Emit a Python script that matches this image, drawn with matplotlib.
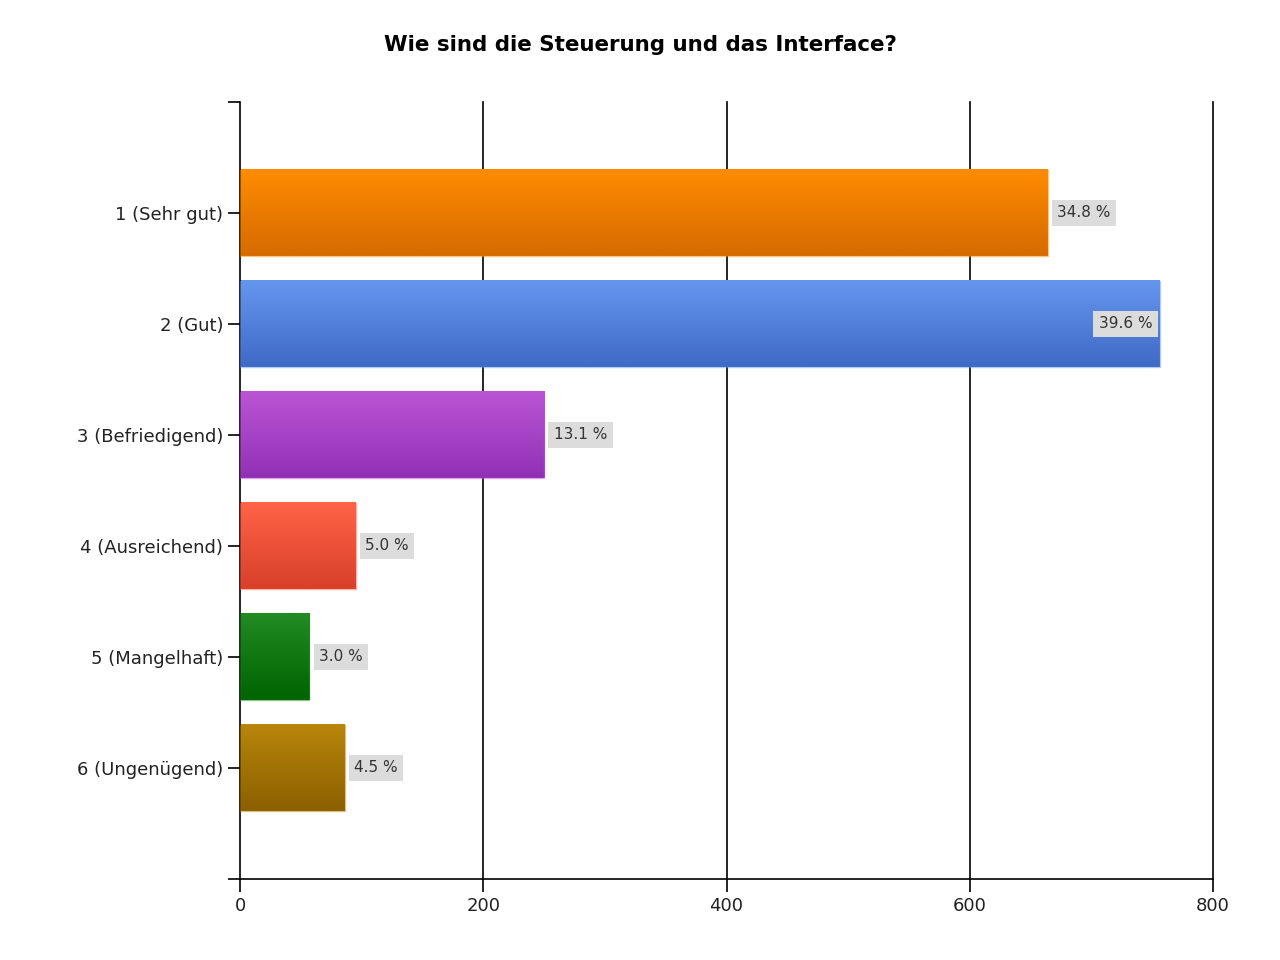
import numpy as np
import matplotlib.pyplot as plt
from matplotlib.colors import LinearSegmentedColormap

plt.rcParams['font.family'] = ['DejaVu Sans']

# Data
categories = ['1 (Sehr gut)', '2 (Gut)', '3 (Befriedigend)', '4 (Ausreichend)',
              '5 (Mangelhaft)', '6 (Ungenügend)']
counts = [664, 756, 250, 95, 57, 86]
percent_labels = ['34.8 %', '39.6 %', '13.1 %', '5.0 %', '3.0 %', '4.5 %']
# top / bottom colours of each gradient bar
top_colors = ['#ff8c00', '#6596ee', '#bb55d6', '#ff6347', '#228b22', '#b8860b']
bottom_colors = ['#d66b00', '#3f6ac6', '#9230b5', '#d8402a', '#006400', '#8b6000']

fig = plt.figure(figsize=(12.8, 9.6), dpi=100)
ax = fig.add_axes([0.1875, 0.0844, 0.7602, 0.8094])

bar_h = 0.78
grad = np.linspace(0, 1, 64).reshape(-1, 1)
for i, (v, c1, c2) in enumerate(zip(counts, top_colors, bottom_colors)):
    y = i + 1
    cmap = LinearSegmentedColormap.from_list('g%d' % i, [c1, c2])
    ax.imshow(grad, cmap=cmap, aspect='auto', interpolation='bilinear',
              extent=(0, v, y + bar_h / 2, y - bar_h / 2), zorder=2)
    # thin light edge like the original
    ax.add_patch(plt.Rectangle((0, y - bar_h / 2), v, bar_h, fill=False,
                               edgecolor=c1, lw=1, alpha=0.5, zorder=3))
    if v > 720:
        ax.text(v - 6, y, percent_labels[i], ha='right', va='center', fontsize=11,
                color='#333333', zorder=4,
                bbox=dict(facecolor='#dcdcdc', edgecolor='none', pad=4))
    else:
        ax.text(v + 8, y, percent_labels[i], ha='left', va='center', fontsize=11,
                color='#333333', zorder=4,
                bbox=dict(facecolor='#dcdcdc', edgecolor='none', pad=4))

for gx in [200, 400, 600, 800]:
    ax.axvline(gx, color='black', lw=1.2, zorder=1, clip_on=False)

ax.set_xlim(0, 800)
ax.set_ylim(7, 0)
ax.set_xticks([0, 200, 400, 600, 800])
ax.set_yticks(range(1, 7))
ax.set_yticklabels(categories)
ax.set_yticks([0, 7], minor=True)
ax.tick_params(axis='y', which='both', length=9, width=1.2, labelsize=13, pad=3,
               colors='black', labelcolor='#222222')
ax.tick_params(axis='x', length=9, width=1.2, labelsize=13, pad=4, labelcolor='#222222')

for s in ['top', 'right']:
    ax.spines[s].set_visible(False)
for s in ['left', 'bottom']:
    ax.spines[s].set_linewidth(1.2)

fig.text(0.5, 0.953, 'Wie sind die Steuerung und das Interface?', ha='center', va='center',
         fontsize=15.4, fontweight='bold')

fig.savefig('out.png', dpi=100, facecolor='white')
